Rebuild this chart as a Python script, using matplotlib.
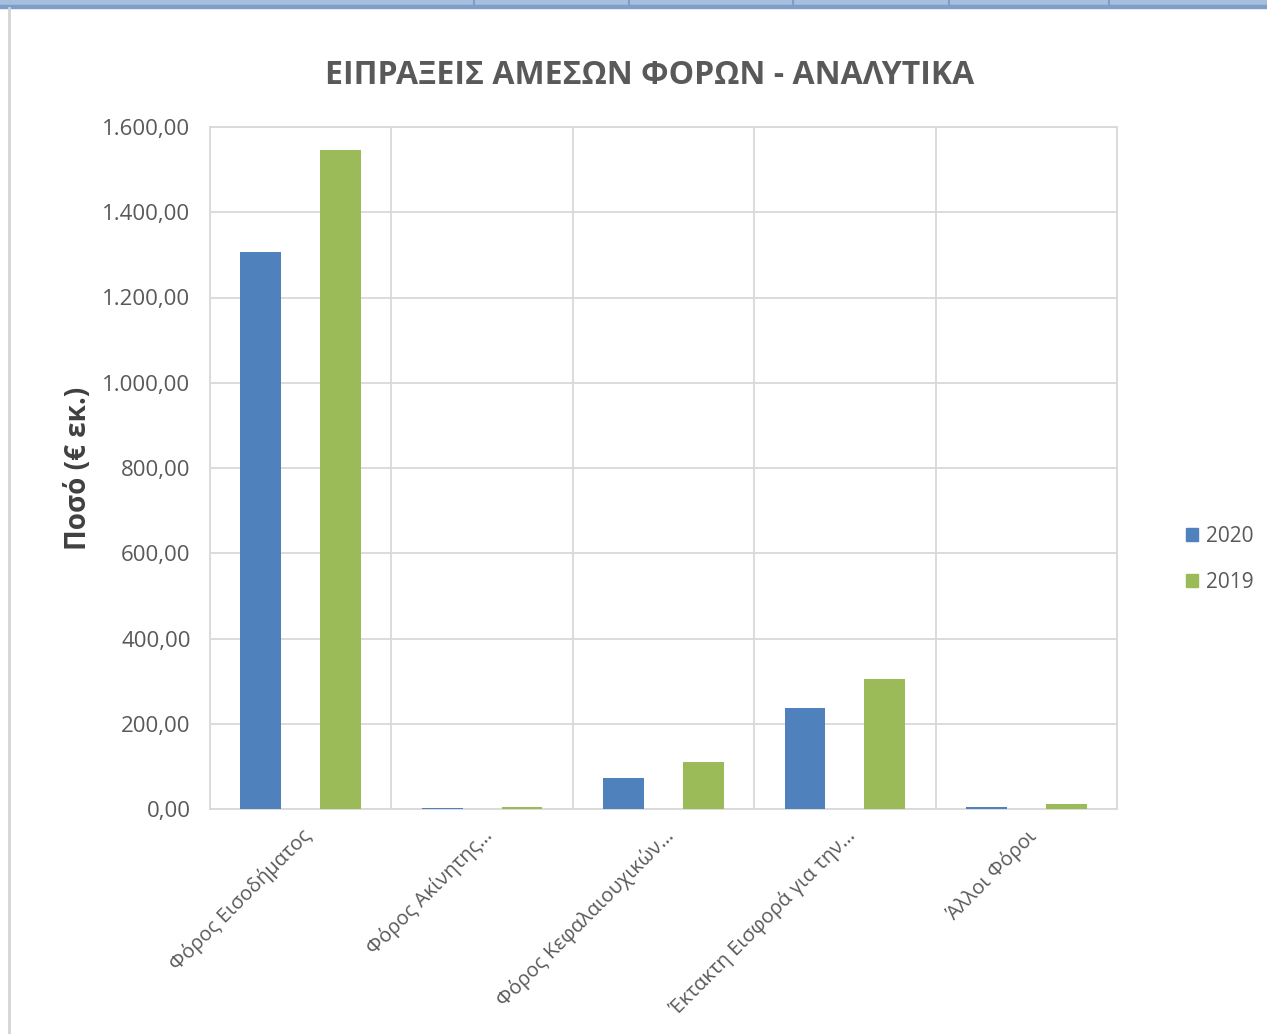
import matplotlib.pyplot as plt
import matplotlib.patches as mpatches
from matplotlib.lines import Line2D
from matplotlib.ticker import FuncFormatter, MultipleLocator
import numpy as np

plt.rcParams['font.family'] = ['Open Sans', 'DejaVu Sans']

categories = ["Φόρος Εισοδήματος", "Φόρος Ακίνητης…", "Φόρος Κεφαλαιουχικών…",
              "Έκτακτη Εισφορά για την…", "Άλλοι Φόροι"]
series_names = ["2020", "2019"]
values_2020 = [1307, 3, 73, 237, 5]
values_2019 = [1546, 5, 110, 305, 12]

blue = "#4F81BD"
green = "#9BBB59"
grid_c = "#D9D9D9"
text_c = "#595959"

W, H = 1267, 1034
fig = plt.figure(figsize=(W / 100, H / 100), dpi=100, facecolor="white")

# spreadsheet header strip and sheet border
fig.patches.append(mpatches.Rectangle((0, 1 - 5 / H), 1, 5 / H, transform=fig.transFigure,
                                      color="#A7BFDE", zorder=0))
fig.patches.append(mpatches.Rectangle((0, 1 - 8 / H), 1, 3 / H, transform=fig.transFigure,
                                      color="#7F9DC9", zorder=0))
for sx in [474, 629, 793, 949, 1109]:
    fig.lines.append(Line2D([sx / W, sx / W], [1 - 5 / H, 1], transform=fig.transFigure,
                            color="#7F9DC9", lw=1.5))
fig.lines.append(Line2D([9 / W, 9 / W], [0, 1 - 8 / H], transform=fig.transFigure,
                        color="#D4D4D4", lw=2))

ax = fig.add_axes([210 / W, 1 - 809 / H, (1117 - 210) / W, (809 - 127) / H])

x = np.arange(len(categories))
width = 0.225
ax.bar(x - 0.22, values_2020, width, color=blue, label=series_names[0], zorder=3)
ax.bar(x + 0.22, values_2019, width, color=green, label=series_names[1], zorder=3)

ax.set_xlim(-0.5, len(categories) - 0.5)
ax.set_ylim(0, 1600)
ax.yaxis.set_major_locator(MultipleLocator(200))
ax.yaxis.set_major_formatter(FuncFormatter(
    lambda v, p: f"{v:,.2f}".replace(",", "X").replace(".", ",").replace("X", ".")))

# vertical gridlines sit on the category boundaries
ax.set_xticks(x)
ax.set_xticks(np.arange(len(categories) + 1) - 0.5, minor=True)
ax.grid(axis="y", which="major", color=grid_c, lw=1.3, zorder=0)
ax.grid(axis="x", which="minor", color=grid_c, lw=1.3, zorder=0)
ax.set_xticklabels(categories, rotation=45, ha="right", rotation_mode="anchor",
                   fontsize=14.5, color=text_c)
ax.tick_params(axis="x", which="both", length=0, pad=12)
ax.tick_params(axis="y", length=0, labelsize=16, colors=text_c, pad=14)
for s in ax.spines.values():
    s.set_color(grid_c)
    s.set_linewidth(1.3)

ax.set_ylabel("Ποσό (€ εκ.)", fontsize=20, fontweight="bold", color="#404040", labelpad=7)
fig.text(650 / W, 1 - 76 / H, "ΕΙΠΡΑΞΕΙΣ ΑΜΕΣΩΝ ΦΟΡΩΝ - ΑΝΑΛΥΤΙΚΑ", ha="center", va="center",
         fontsize=23, fontweight="bold", color=text_c)

handles = [mpatches.Patch(color=blue, label=series_names[0]),
           mpatches.Patch(color=green, label=series_names[1])]
fig.legend(handles=handles, loc="center left", bbox_to_anchor=(1167 / W, 1 - 559 / H),
           frameon=False, fontsize=15, labelcolor=text_c, handlelength=0.6,
           handleheight=0.6, handletextpad=0.35, labelspacing=1.2)

fig.savefig("out.png", dpi=100, facecolor="white")
